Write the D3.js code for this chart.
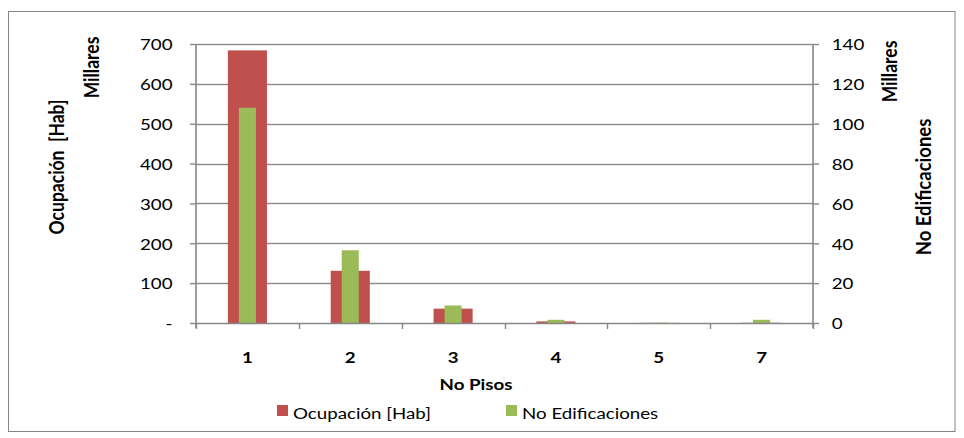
<!DOCTYPE html>
<html>
<head>
<meta charset="utf-8">
<script src="https://cdn.jsdelivr.net/npm/d3@7"></script>
<style>
  html, body { margin: 0; padding: 0; background: #fff; }
  svg text { font-family: Lato, "Open Sans", sans-serif; fill: #000; white-space: pre; }
</style>
</head>
<body>
<svg id="chart" width="964" height="438"></svg>
<script>
// ---- data (values in thousands, "Millares") ----
const categories = ["1", "2", "3", "4", "5", "7"];
const ocupacion = [684, 131, 36, 4, 0.3, 0.5];          // Ocupación [Hab], left axis
const edificaciones = [108, 36.5, 8.8, 1.6, 0.1, 1.6];  // No Edificaciones, right axis
const leftTicks = [0, 100, 200, 300, 400, 500, 600, 700];
const rightTicks = [0, 20, 40, 60, 80, 100, 120, 140];
const seriesNames = ["Ocupación [Hab]", "No Edificaciones"];

// ---- layout ----
const S = 1.17; // horizontal text stretch of the original image
const plot = { left: 196, right: 813, top: 44, bottom: 323 };
const colRed = "#C0504D", colGreen = "#9BBB59", gray = "#868686";

const svg = d3.select("#chart");

// outer frame
svg.append("rect").attr("x", 8.5).attr("y", 11.5).attr("width", 946.5).attr("height", 420)
  .attr("fill", "#fff").attr("stroke", gray).attr("stroke-width", 1);

const x = d3.scaleBand().domain(categories).range([plot.left, plot.right]).padding(0);
const yL = d3.scaleLinear().domain([0, 700]).range([plot.bottom, plot.top]);
const yR = d3.scaleLinear().domain([0, 140]).range([plot.bottom, plot.top]);

// gridlines
svg.append("g").selectAll("line").data(leftTicks.filter(d => d > 0)).join("line")
  .attr("x1", plot.left).attr("x2", plot.right)
  .attr("y1", d => Math.round(yL(d)) + 0.5).attr("y2", d => Math.round(yL(d)) + 0.5)
  .attr("stroke", "#8e8e8e").attr("stroke-width", 1.4);

// bars
const bw = x.bandwidth();
svg.append("g").selectAll("rect").data(ocupacion).join("rect")
  .attr("x", (d, i) => x(categories[i]) + bw / 2 - bw * 0.19)
  .attr("width", bw * 0.38)
  .attr("y", d => yL(d))
  .attr("height", d => plot.bottom - yL(d))
  .attr("fill", colRed);
svg.append("g").selectAll("rect").data(edificaciones).join("rect")
  .attr("x", (d, i) => x(categories[i]) + bw / 2 - bw * 0.083)
  .attr("width", bw * 0.166)
  .attr("y", d => yR(d))
  .attr("height", d => plot.bottom - yR(d))
  .attr("fill", colGreen);

// left axis
const gL = svg.append("g").attr("transform", `translate(${plot.left},0)`)
  .call(d3.axisLeft(yL).tickValues(leftTicks).tickSize(6)
    .tickFormat(d => d === 0 ? "-" : d3.format("d")(d)));
// right axis
const gR = svg.append("g").attr("transform", `translate(${plot.right},0)`)
  .call(d3.axisRight(yR).tickValues(rightTicks).tickSize(6).tickFormat(d3.format("d")));
[gL, gR].forEach(g => {
  g.select(".domain").attr("stroke", gray).attr("stroke-width", 1.6)
   .attr("d", `M0,${plot.top}V${plot.bottom + 5}`);
  g.selectAll(".tick line").attr("stroke", gray).attr("stroke-width", 1.4);
  g.selectAll("text").attr("font-size", 16).attr("fill", "#000")
   .attr("font-family", "Lato").attr("dy", "0.36em");
});
gL.selectAll("text").attr("x", -23.5 / S).attr("transform", `scale(${S},1)`);
gR.selectAll("text").attr("x", 18.7 / S).attr("transform", `scale(${S},1)`);

// bottom axis line and boundary ticks
svg.append("line").attr("x1", plot.left).attr("x2", plot.right)
  .attr("y1", plot.bottom + 0.5).attr("y2", plot.bottom + 0.5)
  .attr("stroke", gray).attr("stroke-width", 1.6);
const bounds = categories.map(c => x(c)).concat([x.range()[1]]);
svg.append("g").selectAll("line").data(bounds).join("line")
  .attr("x1", d => Math.round(d) + 0.5).attr("x2", d => Math.round(d) + 0.5)
  .attr("y1", plot.bottom).attr("y2", plot.bottom + 6)
  .attr("stroke", gray).attr("stroke-width", 1.4);

// category labels
const gB = svg.append("g").attr("transform", `translate(0,${plot.bottom})`)
  .call(d3.axisBottom(x).tickSize(0));
gB.select(".domain").remove();
gB.selectAll("text").attr("font-size", 16).attr("font-weight", "bold").attr("fill", "#000")
  .attr("y", 40.5).attr("dy", 0).attr("transform", `scale(${S},1)`);

function stretched(text, cx, cy, opts) {
  const g = svg.append("g").attr("transform", `translate(${cx},${cy})`);
  const t = g.append("text").text(text)
    .attr("font-size", opts.size).attr("font-weight", opts.bold ? "bold" : "normal")
    .attr("text-anchor", opts.anchor || "middle");
  if (opts.rotate) {
    t.attr("transform", `scale(${S},1) rotate(-90)`).attr("dy", "0.36em");
  } else {
    t.attr("transform", `scale(${S},1)`);
  }
  return t;
}

// axis titles
stretched("No Pisos", 476, 389.5, { size: 16, bold: true });
stretched("Ocupación  [Hab]", 57, 167, { size: 17.5, bold: true, rotate: true });
stretched("Millares", 92, 67.5, { size: 17.5, bold: true, rotate: true });
stretched("Millares", 890, 71.5, { size: 17.5, bold: true, rotate: true });
stretched("No Edificaciones", 923, 187, { size: 18.5, bold: true, rotate: true });

// legend
const legend = [
  { name: seriesNames[0], color: colRed, x: 277 },
  { name: seriesNames[1], color: colGreen, x: 506 }
];
legend.forEach(l => {
  svg.append("rect").attr("x", l.x).attr("y", 405).attr("width", 11).attr("height", 11).attr("fill", l.color);
  stretched(l.name, l.x + 16, 419, { size: 16, anchor: "start" });
});
</script>
</body>
</html>
